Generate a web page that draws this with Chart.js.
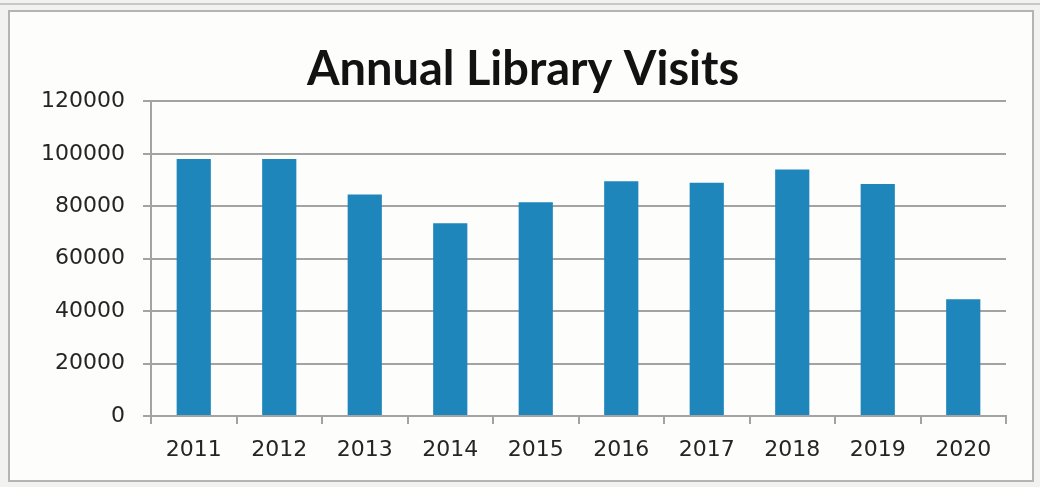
<!DOCTYPE html>
<html>
<head>
<meta charset="utf-8">
<title>Annual Library Visits</title>
<script src="https://cdn.jsdelivr.net/npm/chart.js@4"></script>
<style>
  html, body { margin: 0; padding: 0; background: #f2f2f0; }
  #wrap { position: relative; width: 1040px; height: 487px; overflow: hidden; }
  #frame {
    position: absolute; left: 8px; top: 10px; width: 1022px; height: 468px;
    border: 2px solid #b4b4b4; background: #fdfdfc;
  }
  #edge { position: absolute; left: 0; top: 3px; width: 1040px; height: 2px; background: #c8c8c8; }
  #chart { position: absolute; left: 0; top: 0; }
</style>
</head>
<body>
<div id="wrap">
  <div id="edge"></div>
  <div id="frame"></div>
  <canvas id="chart" width="1040" height="487"></canvas>
</div>
<script>
// Visits per year
const years = ["2011", "2012", "2013", "2014", "2015", "2016", "2017", "2018", "2019", "2020"];
const visits = [98000, 98000, 84500, 73500, 81500, 89500, 89000, 94000, 88500, 44500];
const yTicks = [0, 20000, 40000, 60000, 80000, 100000, 120000];

const gridGray = "#a3a3a3";
const tickFont = { family: "'DejaVu Sans', sans-serif", size: 22 };

const ctx = document.getElementById("chart").getContext("2d");
new Chart(ctx, {
  type: "bar",
  data: {
    labels: years,
    datasets: [{
      label: "Visits",
      data: visits,
      backgroundColor: "#1e86bb",
      borderWidth: 0,
      categoryPercentage: 1.0,
      barPercentage: 0.4
    }]
  },
  options: {
    responsive: false,
    animation: false,
    // left padding pushes the centred title a little right; y axis width keeps the plot edge at 151
    layout: { padding: { left: 40, right: 34, top: 0, bottom: 0 } },
    plugins: {
      legend: { display: false },
      tooltip: { enabled: false },
      title: {
        display: true,
        text: "Annual Library Visits",
        color: "#121212",
        font: { family: "Lato, 'Open Sans', sans-serif", size: 47, weight: "bold" },
        padding: { top: 42, bottom: 3 }
      }
    },
    scales: {
      x: {
        grid: { display: true, drawOnChartArea: false, drawTicks: true, tickLength: 8, color: gridGray, lineWidth: 2, offset: true },
        border: { display: true, color: gridGray, width: 2 },
        ticks: { color: "#252525", font: tickFont, padding: 13, maxRotation: 0 },
        afterFit: scale => { scale.height = 71; }
      },
      y: {
        min: 0,
        max: 120000,
        afterBuildTicks: scale => { scale.ticks = yTicks.map(v => ({ value: v })); },
        grid: { color: gridGray, lineWidth: 2, tickLength: 8 },
        border: { display: true, color: gridGray, width: 2 },
        ticks: { color: "#252525", font: tickFont, padding: 18, callback: v => String(v) },
        afterFit: scale => { scale.width = 111; }
      }
    }
  }
});
</script>
</body>
</html>
